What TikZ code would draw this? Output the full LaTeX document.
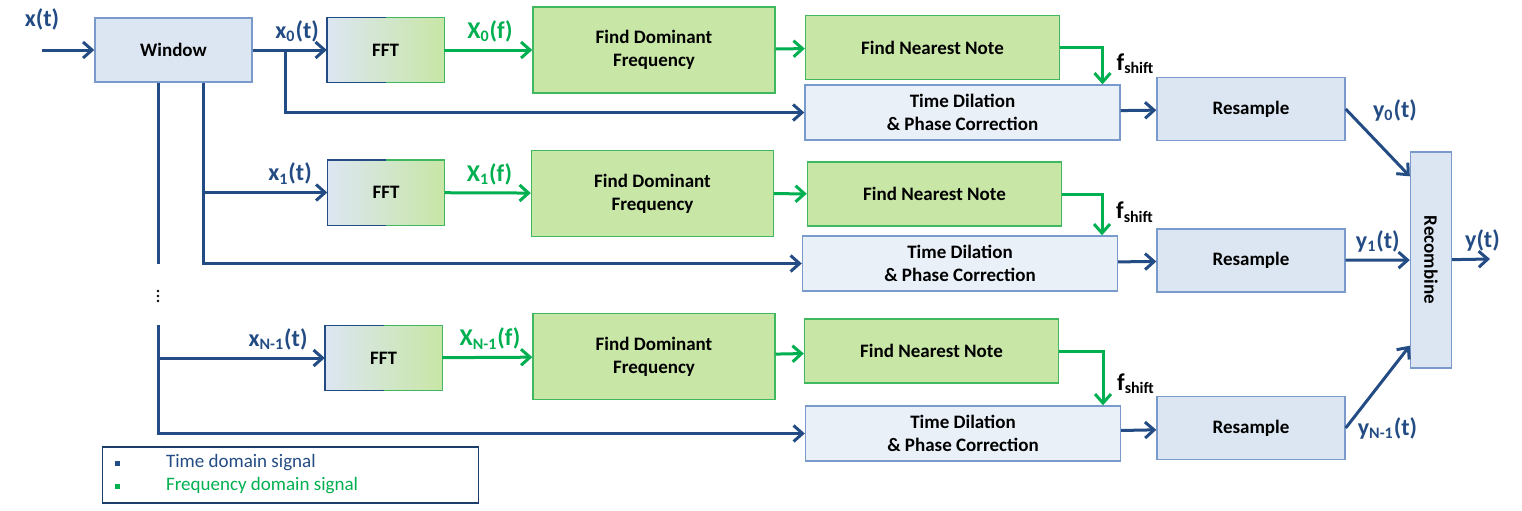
\documentclass[tikz,border=0pt]{standalone}
\usepackage{graphicx}
\usepackage{fontspec}
\setmainfont{Carlito}
\usetikzlibrary{arrows.meta}
\definecolor{tblue}{RGB}{36,76,132}
\definecolor{fgreen}{RGB}{0,176,80}
\definecolor{bfill}{RGB}{220,230,242}
\definecolor{bline}{RGB}{122,154,204}
\definecolor{tdfill}{RGB}{234,240,248}
\definecolor{gfill}{RGB}{200,230,166}
\definecolor{gline}{RGB}{64,184,96}

\begin{document}
\begin{tikzpicture}[x=0.5pt,y=-0.5pt,
        blk/.style={draw=bline,line width=0.7pt,fill=bfill,inner sep=0pt,
            font=\fontsize{9.5}{11.5}\selectfont\bfseries,align=center},
        gblk/.style={blk,draw=gline,fill=gfill},
        domblk/.style={gblk,minimum width=121pt,minimum height=43pt},
        nearblk/.style={gblk,minimum width=127pt,minimum height=32pt},
        tdblk/.style={blk,fill=tdfill,minimum width=157.5pt,minimum height=27.5pt},
        resblk/.style={blk,minimum width=94pt,minimum height=31.5pt},
        fftblk/.style={blk,draw=none,left color=bfill,right color=gfill,
            minimum width=58pt,minimum height=32pt},
        tsig/.style={draw=tblue,line width=1.5pt,-{Straight Barb[length=4.5pt,width=8pt]}},
        fsig/.style={tsig,draw=fgreen},
        lab/.style={font=\fontsize{12}{13}\selectfont\bfseries,text=tblue},
        glab/.style={lab,text=fgreen},
        flab/.style={lab,text=black}]
\useasboundingbox (0,0) rectangle (1522,510);

% blocks
\node[blk,minimum width=78.5pt,minimum height=32pt] (win) at (173.5,50) {Window};
\node[fftblk] (fft0) at (385.5,50) {FFT};
\node[fftblk] (fft1) at (386,192.5) {FFT};
\node[fftblk] (fft2) at (383.5,358) {FFT};
\foreach \n in {fft0,fft1,fft2}{
  \draw[tblue,line width=0.7pt] (\n.north) -| (\n.south west) -- (\n.south);
  \draw[gline,line width=0.7pt] (\n.north) -| (\n.south east) -- (\n.south);
}
\node[domblk] (dom0) at (654,50) {Find Dominant\\Frequency};
\node[domblk] (dom1) at (652.5,193.5) {Find Dominant\\Frequency};
\node[domblk] (dom2) at (654,356.5) {Find Dominant\\Frequency};
\node[nearblk] (near0) at (932.5,47.5) {Find Nearest Note};
\node[nearblk] (near1) at (934.5,194) {Find Nearest Note};
\node[nearblk] (near2) at (931.5,351) {Find Nearest Note};
\node[tdblk] (td0) at (962.5,112.5) {Time Dilation\\\& Phase Correction};
\node[tdblk] (td1) at (960,263.5) {Time Dilation\\\& Phase Correction};
\node[tdblk] (td2) at (963,433.5) {Time Dilation\\\& Phase Correction};
\node[resblk] (res0) at (1251,109) {Resample};
\node[resblk] (res1) at (1251,260.5) {Resample};
\node[resblk] (res2) at (1251,428) {Resample};
\node[blk,minimum width=20.5pt,minimum height=108pt] (rec) at (1431,260) {\rotatebox{-90}{Recombine}};

% time domain
\coordinate (in) at (42,50);
\draw[tsig] (in) -- node[lab,above=6pt,pos=0] {x(t)} (win);
\draw[tsig] (win) -- node[lab,above,pos=0.6] {x\textsubscript{0}(t)} (fft0);
\coordinate (b0) at (285,50);
\draw[tsig] (b0) |- (td0);
\draw[tsig] ([xshift=14.75pt]win.south) |- (td1);
\coordinate (b1) at (203,192.5);
\draw[tsig] (b1) -- node[lab,above,pos=0.7] {x\textsubscript{1}(t)} (fft1);
\draw[draw=tblue,line width=1.5pt] ([xshift=-7.75pt]win.south) -- ++(0,181);
\foreach \y in {291,296,301}
  \fill (158,\y) circle (0.7pt);
\coordinate (c2) at (158,325);
\draw[tsig] (c2) |- (td2);
\coordinate (b2) at (158,358);
\draw[tsig] (b2) -- node[lab,above,pos=0.72] {x\textsubscript{N-1}(t)} (fft2);

% frequency domain
\draw[fsig] (fft0) -- node[glab,above,pos=0.52] {X\textsubscript{0}(f)} (dom0);
\draw[fsig] (fft1) -- node[glab,above,pos=0.52] {X\textsubscript{1}(f)} (dom1);
\draw[fsig] (fft2) -- node[glab,above,pos=0.53] {X\textsubscript{N-1}(f)} (dom2);
\draw[fsig] (dom0) -- (near0);
\draw[fsig] (dom1) -- (near1);
\draw[fsig] (dom2) -- (near2);
\draw[fsig] (near0.east) -| node[flab,pos=0.72,right=3pt] {f\textsubscript{shift}} ([xshift=70pt]td0.north);
\draw[fsig] (near1.east) -| node[flab,pos=0.72,right=3pt] {f\textsubscript{shift}} ([xshift=71pt]td1.north);
\draw[fsig] (near2.east) -| node[flab,pos=0.8,right=3pt] {f\textsubscript{shift}} ([xshift=70pt]td2.north);

% output side
\draw[tsig] (td0) -- (res0);
\draw[tsig] (td1) -- (res1);
\draw[tsig] (td2) -- (res2);
\draw[tsig] (res0.east) -- node[lab,pos=0.3,anchor=south west] {y\textsubscript{0}(t)} ([yshift=-12.5pt]rec.north west);
\draw[tsig] (res1) -- node[lab,above,pos=0.5] {y\textsubscript{1}(t)} (rec);
\draw[tsig] (res2.east) -- node[lab,pos=0,anchor=west,xshift=2pt] {y\textsubscript{N-1}(t)} ([yshift=11.5pt]rec.south west);
\coordinate (out) at (1490,259);
\draw[tsig] (rec) -- node[lab,above,pos=0.8] {y(t)} (out);

% legend
\node[draw=tblue!80!black,line width=0.6pt,minimum width=188pt,minimum height=28pt,inner sep=0pt] (leg) at (290.5,475) {};
\node[fill=tblue,minimum size=2.5pt,inner sep=0pt] (m0) at (117,463) {};
\node[fill=fgreen,minimum size=2.5pt,inner sep=0pt] (m1) at (117,486) {};
\node[anchor=west,text=tblue,font=\fontsize{9.5}{10}\selectfont] (l0) at (159,463) {Time domain signal};
\node[anchor=west,text=fgreen,font=\fontsize{9.5}{10}\selectfont] (l1) at (159,486) {Frequency domain signal};
\end{tikzpicture}
\end{document}
